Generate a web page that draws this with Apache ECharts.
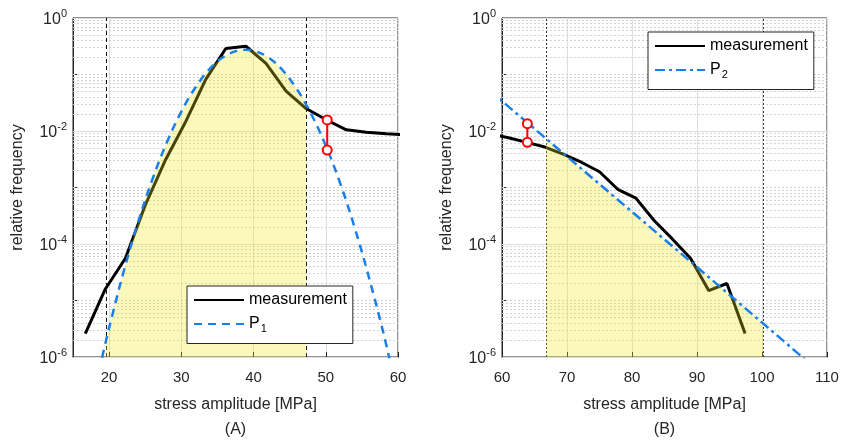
<!DOCTYPE html>
<html><head><meta charset="utf-8">
<script src="https://cdn.jsdelivr.net/npm/echarts@6/dist/echarts.min.js"></script>
<style>html,body{margin:0;padding:0;background:#fff}#c{width:842px;height:441px}</style>
</head><body><div id="c"></div>
<script>
// ---- Panel (A) data ----
const measA_x = [16.7, 19.48, 22.26, 25.04, 27.82, 30.6, 33.38, 36.16, 38.94, 41.72, 44.5, 47.28, 50.06, 52.84, 55.62, 58.4, 61.18];
const measA_y = [2.6e-6, 1.6e-5, 5.6e-5, 5.0e-4, 3.1e-3, 0.0146, 0.082, 0.288, 0.316, 0.158, 0.051, 0.025, 0.0158, 0.0105, 0.0095, 0.0089, 0.0085];
const p1_x = [18.6, 19.55, 20.5, 22, 24, 26, 28, 30, 32, 34, 36, 38, 39, 40, 42, 44, 46, 47.3, 48, 50, 52, 54, 56, 58, 59];
const p1_y = [5.6e-7, 1.9e-6, 5.9e-6, 3.2e-5, 2.4e-4, 1.4e-3, 6.3e-3, 0.022, 0.060, 0.129, 0.211, 0.268, 0.275, 0.265, 0.203, 0.120, 0.055, 0.029, 0.020, 5.5e-3, 1.18e-3, 1.95e-4, 2.5e-5, 2.6e-6, 7.2e-7];
const boundsA = [19.55, 47.3];
const errA_x = 50.2;
const errA_y = [0.0157, 0.0046];

// ---- Panel (B) data ----
const measB_x = [58.2, 61.0, 63.8, 66.6, 69.4, 72.2, 75.0, 77.8, 80.6, 83.4, 86.2, 89.0, 91.8, 94.6, 97.4];
const measB_y = [0.0089, 0.0076, 0.0063, 0.0052, 0.0039, 0.0028, 0.0019, 9.3e-4, 6.5e-4, 2.6e-4, 1.23e-4, 5.6e-5, 1.5e-5, 2.0e-5, 2.6e-6];
const p2_x = [58, 66.8, 100.2, 108];
const p2_y = [0.0532, 7.3e-3, 3.9e-6, 6.6e-7];
const boundsB = [66.8, 100.2];
const errB_x = 63.9;
const errB_y = [0.0135, 0.0063];

// ---- axis ticks ----
const xTicksA = [20, 30, 40, 50, 60];
const xTicksB = [60, 70, 80, 90, 100, 110];
const yLabelExps = [-6, -4, -2, 0];
const majorY = [1e-6, 1e-4, 1e-2, 1];
const minorMantissas = [2, 3, 4, 5, 6, 7, 8, 9];
const decades = [-6, -5, -4, -3, -2, -1];
const oddDecades = [1e-5, 1e-3, 1e-1];

const font = '"Liberation Sans", Arial, Helvetica, sans-serif';
const ink = '#262626';
const zip = (xs, ys) => xs.map((x, i) => [x, ys[i]]);
const within = (xs, ys, lo, hi) => zip(xs, ys).filter(p => p[0] >= lo - 1e-9 && p[0] <= hi + 1e-9);

const minorVals = [];
decades.forEach(d => minorMantissas.forEach(m => minorVals.push(m * Math.pow(10, d))));
oddDecades.forEach(v => minorVals.push(v));

function xAxisCfg(gi, min, max, ticks, letter) {
  return {
    type: 'value', gridIndex: gi, min: min, max: max,
    axisLine: {show: true, onZero: false, lineStyle: {color: ink}},
    axisTick: {show: true, inside: true, length: 5, lineStyle: {color: ink}},
    axisLabel: {color: ink, fontFamily: font, fontSize: 15, margin: 13,
      formatter: v => ticks.indexOf(v) >= 0 ? String(v) : ''},
    splitLine: {show: true, lineStyle: {color: '#dedede', width: 1}},
    name: 'stress amplitude [MPa]\n(' + letter + ')', nameLocation: 'middle', nameGap: 35,
    nameTextStyle: {color: ink, fontFamily: font, fontSize: 16, lineHeight: 25}
  };
}
function yAxisCfg(gi) {
  return {
    type: 'log', logBase: 10, gridIndex: gi, min: 1e-6, max: 1,
    axisLine: {show: true, lineStyle: {color: ink}},
    axisTick: {show: true, inside: true, length: 4, lineStyle: {color: ink}},
    axisLabel: {color: ink, fontFamily: font, fontSize: 15, margin: 6,
      formatter: v => {
        const e = Math.round(Math.log10(v));
        return yLabelExps.indexOf(e) >= 0 ? '{b|10}{s|' + e + '}' : '';
      },
      rich: {
        b: {fontSize: 16, fontFamily: font, color: ink, verticalAlign: 'bottom', lineHeight: 20},
        s: {fontSize: 11, fontFamily: font, color: ink, verticalAlign: 'top', lineHeight: 20}
      }},
    splitLine: {show: false},
    name: 'relative frequency', nameLocation: 'middle', nameGap: 47,
    nameTextStyle: {color: ink, fontFamily: font, fontSize: 16}
  };
}
function gridLineSeries(gi) {
  return {
    type: 'line', xAxisIndex: gi, yAxisIndex: gi, data: [], z: 1, silent: true,
    markLine: {silent: true, symbol: 'none', label: {show: false}, animation: false, precision: 14, z: 1,
      data: minorVals.map(v => ({yAxis: v, lineStyle: {color: '#d2d2d2', type: [2, 2], width: 1}}))
        .concat(majorY.map(v => ({yAxis: v, lineStyle: {color: '#dedede', type: 'solid', width: 1}})))}
  };
}
function legendCfg(left, top, names) {
  return {
    data: names, left: left, top: top, orient: 'vertical', selectedMode: false,
    itemWidth: 50, itemHeight: 14, itemGap: 8, padding: [6, 6, 9, 6],
    borderColor: ink, borderWidth: 1, backgroundColor: '#fff', z: 10,
    itemStyle: {opacity: 0},
    textStyle: {fontSize: 16, color: '#000', fontFamily: font,
      rich: {sub: {fontSize: 11, fontFamily: font, color: '#000', padding: [10, 0, 0, 1]}}},
    formatter: n => n === 'P1' ? 'P{sub|1}' : (n === 'P2' ? 'P{sub|2}' : n)
  };
}
const fillStyle = {color: 'rgba(238,232,20,0.42)'};
const blue = '#1a7fe8';

const option = {
  animation: false,
  backgroundColor: '#fff',
  grid: [
    {left: 73, top: 18, width: 325, height: 339, show: true, borderColor: ink, borderWidth: 1,
      backgroundColor: 'transparent', containLabel: false, outerBoundsMode: 'none'},
    {left: 502, top: 18, width: 325, height: 339, show: true, borderColor: ink, borderWidth: 1,
      backgroundColor: 'transparent', containLabel: false, outerBoundsMode: 'none'}
  ],
  xAxis: [xAxisCfg(0, 15, 60, xTicksA, 'A'), xAxisCfg(1, 60, 110, xTicksB, 'B')],
  yAxis: [yAxisCfg(0), yAxisCfg(1)],
  legend: [legendCfg(187, 286, ['measurement', 'P1']), legendCfg(648, 32, ['measurement', 'P2'])],
  series: [
    gridLineSeries(0),
    gridLineSeries(1),
    {name: 'measurement', type: 'line', xAxisIndex: 0, yAxisIndex: 0, symbol: 'none', z: 2,
      data: zip(measA_x, measA_y), lineStyle: {color: '#000', width: 3}, itemStyle: {color: '#000'}},
    {name: 'fillA', type: 'line', xAxisIndex: 0, yAxisIndex: 0, symbol: 'none', smooth: 0.4, z: 3,
      data: within(p1_x, p1_y, boundsA[0], boundsA[1]), lineStyle: {width: 0},
      areaStyle: Object.assign({origin: 'start'}, fillStyle),
      markLine: {silent: true, symbol: 'none', label: {show: false}, precision: 6, z: 3,
        lineStyle: {color: '#111', type: [4, 3], width: 1},
        data: boundsA.map(v => ({xAxis: v}))}},
    {name: 'P1', type: 'line', xAxisIndex: 0, yAxisIndex: 0, symbol: 'none', smooth: 0.4, z: 3,
      data: zip(p1_x, p1_y), lineStyle: {color: blue, width: 2.5, type: [8, 6]}, itemStyle: {color: blue}},
    {name: 'errA', type: 'line', xAxisIndex: 0, yAxisIndex: 0, symbol: 'emptyCircle', symbolSize: 9, z: 3,
      data: errA_y.map(v => [errA_x, v]), lineStyle: {color: '#ff0000', width: 2},
      itemStyle: {color: '#ff0000', borderWidth: 2}},

    {name: 'measurement', type: 'line', xAxisIndex: 1, yAxisIndex: 1, symbol: 'none', z: 2,
      data: zip(measB_x, measB_y), lineStyle: {color: '#000', width: 3}, itemStyle: {color: '#000'}},
    {name: 'fillB', type: 'line', xAxisIndex: 1, yAxisIndex: 1, symbol: 'none', z: 3,
      data: within(p2_x, p2_y, boundsB[0], boundsB[1]), lineStyle: {width: 0},
      areaStyle: Object.assign({origin: 'start'}, fillStyle),
      markLine: {silent: true, symbol: 'none', label: {show: false}, precision: 6, z: 3,
        lineStyle: {color: '#333', type: [2, 2], width: 1},
        data: boundsB.map(v => ({xAxis: v}))}},
    {name: 'P2', type: 'line', xAxisIndex: 1, yAxisIndex: 1, symbol: 'none', z: 3,
      data: zip(p2_x, p2_y), lineStyle: {color: blue, width: 2.5, type: [10, 4, 3, 4]}, itemStyle: {color: blue}},
    {name: 'errB', type: 'line', xAxisIndex: 1, yAxisIndex: 1, symbol: 'emptyCircle', symbolSize: 9, z: 3,
      data: errB_y.map(v => [errB_x, v]), lineStyle: {color: '#ff0000', width: 2},
      itemStyle: {color: '#ff0000', borderWidth: 2}}
  ]
};
const chart = echarts.init(document.getElementById('c'));
chart.setOption(option);
</script>
</body></html>
